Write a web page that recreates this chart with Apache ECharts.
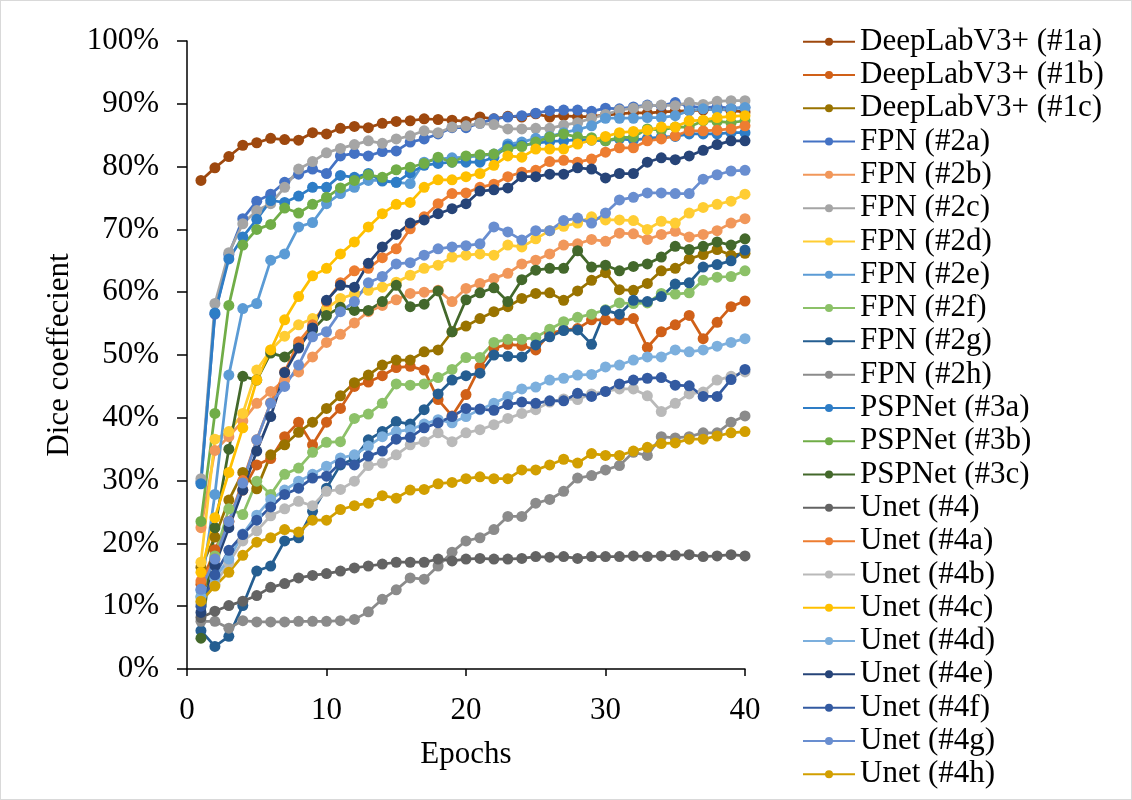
<!DOCTYPE html>
<html>
<head>
<meta charset="utf-8">
<script src="https://cdn.jsdelivr.net/npm/echarts@6/dist/echarts.min.js"></script>
<style>
  html, body { margin: 0; padding: 0; background: #fff; }
  #chart { width: 1132px; height: 800px; box-sizing: border-box; border: 1px solid #d9d9d9; }
</style>
</head>
<body>
<div id="chart"></div>
<script>
// x positions (epochs 1..40)
const epochs = Array.from({ length: 40 }, (_, i) => i + 1);

const yTicks = [0, 10, 20, 30, 40, 50, 60, 70, 80, 90, 100];
const xTicks = [0, 10, 20, 30, 40];

// dice coefficient (%) per epoch
const dl1a = [77.8,79.8,81.6,83.4,83.8,84.5,84.3,84.2,85.4,85.2,86.1,86.4,86.2,86.9,87.2,87.3,87.6,87.5,87.4,87.2,87.9,87.6,88.0,87.9,88.4,87.9,88.1,87.9,88.0,88.2,88.4,88.6,88.5,88.7,88.8,88.9,89.0,89.2,88.9,88.7];
const dl1b = [13.5,19.0,23.5,28.5,32.5,33.5,37.0,39.3,35.7,39.3,41.5,45.0,45.7,46.7,48.0,48.2,47.6,42.9,40.3,43.7,48.1,51.1,51.7,51.5,50.8,53.4,54.0,54.2,55.6,55.6,55.6,55.8,51.2,53.7,54.8,56.3,52.6,55.2,57.7,58.6];
const dl1c = [16.2,21.0,26.9,31.3,28.7,34.1,35.7,37.7,39.3,41.5,43.5,45.6,46.8,48.4,49.2,49.2,50.5,50.8,53.7,54.6,55.8,56.9,57.7,59.0,59.8,59.9,58.7,60.2,61.9,63.1,60.4,60.3,61.4,63.4,63.8,65.3,66.0,66.8,65.9,66.2];
const fpn2a = [29.8,56.5,66.0,71.7,74.5,75.6,77.5,78.8,79.6,78.9,81.7,82.1,81.7,82.4,82.5,83.9,84.4,85.2,86.2,86.2,86.9,87.6,87.9,88.1,88.5,88.9,89.0,89.0,88.8,89.3,89.2,89.5,89.8,89.7,90.2,89.6,89.4,89.5,89.3,89.4];
const fpn2b = [22.5,34.8,37.0,39.5,42.3,44.2,46.0,47.3,49.7,52.0,53.3,55.1,56.9,57.9,58.8,59.8,60.0,60.3,58.5,60.6,61.4,62.2,63.0,64.5,65.1,66.1,67.5,67.7,68.4,68.1,69.4,69.3,68.4,69.2,69.7,68.8,69.2,69.8,71.0,71.7];
const fpn2c = [30.3,58.2,66.3,70.9,73.0,74.1,76.7,79.6,80.8,82.2,82.9,83.5,84.1,83.7,84.4,84.9,85.7,85.4,86.3,86.5,86.9,86.7,86.0,86.0,86.1,86.1,86.6,87.0,87.7,88.3,89.0,89.3,89.7,89.8,89.7,90.2,89.9,90.4,90.5,90.5];
const fpn2d = [17.0,36.6,37.8,40.7,47.6,50.8,53.0,54.8,55.8,57.4,59.0,59.7,60.3,60.8,61.6,62.7,63.8,64.3,65.6,65.9,66.1,65.9,67.5,67.2,68.5,69.8,70.5,71.0,72.0,71.5,71.5,71.4,70.0,71.3,71.0,72.6,73.5,74.0,74.5,75.6];
const fpn2e = [12.5,27.8,46.8,57.4,58.2,65.1,66.1,70.4,71.1,74.1,75.7,76.7,77.8,77.8,77.5,77.3,80.7,81.2,81.4,81.5,81.7,82.0,83.6,83.9,84.5,84.8,85.4,85.9,86.5,87.7,87.7,87.7,87.8,87.8,88.1,88.9,89.2,89.0,89.2,89.4];
const fpn2f = [11.5,18.0,25.5,24.6,29.9,27.8,31.0,32.0,34.5,36.1,36.2,39.9,40.6,42.3,45.4,45.2,45.4,46.4,47.7,49.6,49.6,52.0,52.5,52.5,52.8,54.1,55.3,56.0,56.5,57.2,58.3,58.2,58.3,59.8,59.7,59.9,61.9,62.4,62.5,63.4];
const fpn2g = [6.1,3.6,5.2,10.1,15.6,16.4,20.4,20.9,25.1,28.8,32.5,33.5,36.5,37.8,39.4,39.0,41.3,43.8,46.0,46.7,47.1,50.0,49.8,49.7,51.6,52.9,53.9,54.0,51.7,57.1,56.5,58.7,58.5,59.3,61.3,61.5,64.0,64.4,65.0,66.7];
const fpn2h = [7.6,7.6,6.5,7.7,7.5,7.5,7.5,7.6,7.6,7.6,7.7,7.9,9.1,11.1,12.6,14.5,14.3,16.4,18.6,20.4,20.9,22.2,24.3,24.3,26.4,27.0,28.3,30.4,30.8,31.7,32.4,34.5,34.0,37.0,36.8,37.0,37.6,37.6,39.3,40.3];
const psp3a = [29.5,56.7,65.3,68.8,71.6,74.6,74.3,75.3,76.7,76.7,78.6,78.3,78.9,77.7,77.5,79.0,80.2,80.5,80.7,80.7,80.7,81.5,83.3,83.4,83.7,84.0,84.1,84.3,84.2,84.1,84.4,84.2,84.5,84.7,84.8,85.2,85.2,85.2,85.4,85.4];
const psp3b = [23.5,40.7,57.9,67.5,70.0,70.8,73.4,72.6,74.0,75.1,76.6,77.8,78.7,78.3,79.5,79.9,80.5,81.5,80.7,81.7,81.9,82.0,82.8,83.2,83.9,84.7,85.2,84.7,84.6,84.1,84.6,84.7,86.0,85.8,86.3,86.3,87.3,87.2,87.0,87.3];
const psp3c = [4.9,22.5,35.0,46.6,46.0,50.3,49.7,51.5,54.0,56.3,57.6,57.1,57.1,58.5,61.1,57.7,58.1,60.2,53.7,58.8,59.9,60.7,58.5,62.0,63.5,63.8,63.8,66.6,64.0,64.3,63.4,64.1,64.5,65.6,67.3,66.8,67.3,68.0,67.5,68.5];
const unet4 = [8.2,9.2,10.1,10.8,11.7,13.0,13.6,14.5,14.9,15.2,15.6,16.1,16.4,16.7,17.0,17.0,17.0,17.5,17.2,17.5,17.6,17.5,17.5,17.6,17.9,17.8,17.9,17.6,17.9,17.9,17.9,18.0,17.9,18.0,18.1,18.2,17.9,18.0,18.2,18.0];
const unet4a = [14.0,17.5,23.5,30.0,36.5,42.4,47.3,52.1,54.8,58.5,61.5,63.4,63.8,65.5,66.9,70.1,72.0,74.1,75.7,75.8,76.7,77.2,78.4,79.1,79.4,80.8,81.0,80.7,81.2,82.3,83.0,83.0,84.1,84.4,84.9,85.7,85.7,85.8,86.0,86.5];
const unet4b = [10.5,13.5,16.9,20.4,22.0,24.4,25.5,26.7,26.0,28.3,28.6,29.9,32.4,32.8,34.1,35.7,36.2,37.6,36.2,37.6,38.1,38.9,39.9,40.7,41.3,42.5,43.0,42.9,43.8,44.2,44.6,44.6,43.5,41.0,42.3,43.8,44.1,46.0,46.6,47.3];
const unet4c = [15.4,24.1,31.3,38.4,46.0,50.8,55.6,59.3,62.6,63.8,66.1,68.0,70.4,72.5,74.0,74.3,76.7,77.9,77.9,78.4,78.9,80.2,81.7,81.5,82.8,82.8,82.8,83.6,84.2,84.8,85.4,85.6,85.8,86.3,86.3,87.3,87.4,87.8,88.0,88.1];
const unet4d = [11.5,14.5,17.5,21.5,24.5,27.0,28.5,29.9,31.0,32.3,33.6,34.1,35.5,37.0,37.8,38.1,39.0,39.7,39.2,40.2,41.3,42.3,43.4,44.6,44.9,46.0,46.3,46.8,46.9,48.1,48.4,49.2,49.7,49.7,50.8,50.5,50.8,51.4,52.0,52.6];
const unet4e = [9.0,16.5,22.5,28.5,34.7,40.2,47.2,51.1,54.3,58.7,61.1,60.8,64.6,67.2,69.2,71.0,71.5,72.5,73.3,74.1,76.1,76.3,76.6,78.4,78.4,78.8,78.8,79.8,79.6,78.2,78.9,78.9,80.7,81.4,81.1,81.7,82.6,83.5,84.1,84.1];
const unet4f = [10.0,15.0,18.9,21.4,23.7,25.8,27.8,28.8,30.4,30.7,32.8,32.5,33.9,34.7,36.6,36.9,38.4,39.2,40.2,41.5,41.4,41.2,42.1,42.5,42.3,42.7,42.7,43.9,43.4,44.2,45.4,46.0,46.3,46.4,45.2,45.1,43.4,43.4,46.1,47.7];
const unet4g = [12.7,17.5,23.5,29.6,36.5,42.3,45.0,48.4,52.9,53.7,56.9,58.5,61.5,62.5,64.5,64.7,65.9,66.9,67.2,67.4,67.7,70.4,69.6,68.3,69.8,69.8,71.4,71.8,71.0,72.6,74.7,75.1,75.8,75.8,75.7,75.7,78.0,78.7,79.3,79.4];
const unet4h = [10.8,13.2,15.4,18.1,20.2,20.9,22.2,21.8,23.7,23.7,25.4,26.0,26.4,27.6,27.2,28.5,28.6,29.5,29.7,30.3,30.6,30.3,30.3,31.7,31.7,32.5,33.4,32.8,34.3,34.0,34.0,34.7,35.3,35.9,36.0,36.6,36.6,37.1,37.6,37.8];

const names = [
  'DeepLabV3+ (#1a)', 'DeepLabV3+ (#1b)', 'DeepLabV3+ (#1c)',
  'FPN (#2a)', 'FPN (#2b)', 'FPN (#2c)', 'FPN (#2d)', 'FPN (#2e)', 'FPN (#2f)', 'FPN (#2g)', 'FPN (#2h)',
  'PSPNet (#3a)', 'PSPNet (#3b)', 'PSPNet (#3c)',
  'Unet (#4)', 'Unet (#4a)', 'Unet (#4b)', 'Unet (#4c)', 'Unet (#4d)', 'Unet (#4e)', 'Unet (#4f)', 'Unet (#4g)', 'Unet (#4h)'
];
const values = [
  dl1a, dl1b, dl1c,
  fpn2a, fpn2b, fpn2c, fpn2d, fpn2e, fpn2f, fpn2g, fpn2h,
  psp3a, psp3b, psp3c,
  unet4, unet4a, unet4b, unet4c, unet4d, unet4e, unet4f, unet4g, unet4h
];
const colors = [
  '#9E480E', '#D06018', '#997300',
  '#4472C4', '#F1975A', '#A5A5A5', '#FFCD33', '#5B9BD5', '#8CC168', '#255E91', '#8B8B8B',
  '#2E7DC6', '#70AD47', '#43682B',
  '#636363', '#ED7D31', '#B9B9B9', '#FFC000', '#7CAFDD', '#264478', '#335AA1', '#698ED0', '#D29F00'
];

const font = '"Times New Roman", "Liberation Serif", serif';
const fs = 31;

const chart = echarts.init(document.getElementById('chart'), null, { renderer: 'canvas' });

const series = names.map((name, k) => ({
  name: name,
  type: 'line',
  data: epochs.map((e, i) => [e, values[k][i]]),
  symbol: 'circle',
  symbolSize: 11,
  showSymbol: true,
  lineStyle: { width: 2.75, color: colors[k] },
  itemStyle: { color: colors[k] },
  emphasis: { disabled: true },
  animation: false
}));

const option = {
  animation: false,
  color: colors,
  textStyle: { fontFamily: font },
  grid: { left: 186, right: 386, top: 40, bottom: 130, containLabel: false },
  legend: {
    orient: 'vertical',
    left: 801,
    top: 24,
    height: 775,
    padding: 0,
    itemWidth: 52,
    itemHeight: 10,
    itemGap: 0,
    textStyle: { fontFamily: font, fontSize: fs, color: '#000', lineHeight: 33.3 },
    data: names
  },
  xAxis: {
    type: 'value',
    min: xTicks[0],
    max: xTicks[xTicks.length - 1],
    interval: 10,
    name: 'Epochs',
    nameLocation: 'middle',
    nameGap: 70,
    nameTextStyle: { fontFamily: font, fontSize: fs, color: '#000' },
    axisLine: { show: true, lineStyle: { color: '#000', width: 1.5 } },
    axisTick: { show: true, inside: false, length: 7, lineStyle: { color: '#000', width: 1.5 } },
    axisLabel: { fontFamily: font, fontSize: fs, color: '#000', margin: 26 },
    splitLine: { show: false }
  },
  yAxis: {
    type: 'value',
    min: yTicks[0],
    max: yTicks[yTicks.length - 1],
    interval: 10,
    name: 'Dice coeffecient',
    nameLocation: 'middle',
    nameGap: 112,
    nameTextStyle: { fontFamily: font, fontSize: fs, color: '#000' },
    axisLine: { show: true, lineStyle: { color: '#000', width: 1.5 } },
    axisTick: { show: true, inside: false, length: 10, lineStyle: { color: '#000', width: 1.5 } },
    axisLabel: { fontFamily: font, fontSize: fs, color: '#000', margin: 28, formatter: '{value}%' },
    splitLine: { show: false }
  },
  series: series
};

chart.setOption(option);
</script>
</body>
</html>
